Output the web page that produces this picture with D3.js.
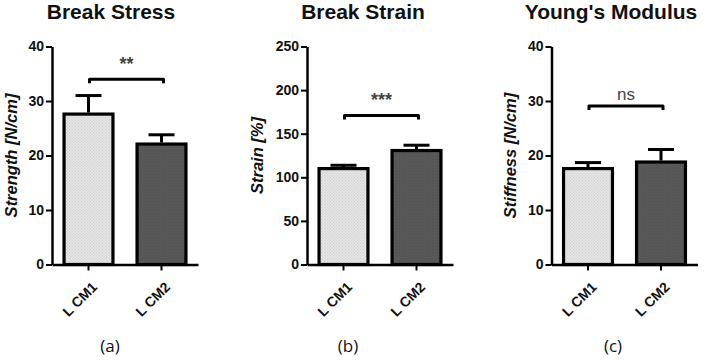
<!DOCTYPE html>
<html lang="en">
<head>
<meta charset="UTF-8">
<title>Break Stress / Break Strain / Young's Modulus</title>
<style>
  body { margin: 0; padding: 0; background: #fff; }
  svg { display: block; font-family: 'Liberation Sans', Arial, sans-serif; }
  .tick text { font-size: 14px; font-weight: bold; fill: #111; }
</style>
</head>
<body>
<svg width="708" height="360"></svg>
<script src="https://d3js.org/d3.v7.min.js"></script>
<script>
// groups on the x axis
const groups = ["L CM1", "L CM2"];

// panel titles / axis labels / sub-captions
const titles = ["Break Stress", "Break Strain", "Young's Modulus"];
const yLabels = ["Strength [N/cm]", "Strain [%]", "Stiffness [N/cm]"];
const captions = ["(a)", "(b)", "(c)"];

// means and error (SD)
const stressMean = [27.6, 22.1];
const stressErr = [3.4, 1.7];
const strainMean = [110, 130.7];
const strainErr = [3.8, 6.1];
const modulusMean = [17.6, 18.8];
const modulusErr = [1.1, 2.3];

// y axis ranges and ticks
const yMax = [40, 250, 40];
const yTicks = [[0, 10, 20, 30, 40], [0, 50, 100, 150, 200, 250], [0, 10, 20, 30, 40]];

// significance brackets
const bracketAt = [34, 171, 29.1];
const sigLabels = ["**", "***", "ns"];

const panels = [
  { mean: stressMean, err: stressErr },
  { mean: strainMean, err: strainErr },
  { mean: modulusMean, err: modulusErr }
];

const svg = d3.select("svg");

// pattern fills for the two bars
const defs = svg.append("defs");
function dotPattern(id, base, dot) {
  const p = defs.append("pattern").attr("id", id)
    .attr("width", 3).attr("height", 3).attr("patternUnits", "userSpaceOnUse");
  p.append("rect").attr("width", 3).attr("height", 3).attr("fill", base);
  p.append("rect").attr("width", 1).attr("height", 1).attr("fill", dot);
  p.append("rect").attr("x", 1.5).attr("y", 1.5).attr("width", 1).attr("height", 1).attr("fill", dot);
}
dotPattern("light", "#e4e4e4", "#cfcfcf");
dotPattern("dark", "#5a5a5a", "#4e4e4e");
const fills = ["url(#light)", "url(#dark)"];

const axisX0 = [52, 307, 551.5];
const yLabelOff = [35, 44, 35.5];
const axisW = 146;
const yBottom = 264.5, yTop = 46.5;

panels.forEach((pd, i) => {
  const x0 = axisX0[i];
  const g = svg.append("g");

  const x = d3.scaleBand().domain(groups)
    .range([x0, x0 + axisW]).paddingInner(0.33).paddingOuter(0.165);
  const y = d3.scaleLinear().domain([0, yMax[i]]).range([yBottom, yTop]);

  // bars
  g.selectAll("rect.bar").data(groups).enter().append("rect")
    .attr("class", "bar")
    .attr("x", d => x(d))
    .attr("width", x.bandwidth())
    .attr("y", (d, j) => y(pd.mean[j]))
    .attr("height", (d, j) => yBottom - y(pd.mean[j]))
    .attr("fill", (d, j) => fills[j])
    .attr("stroke", "#000")
    .attr("stroke-width", 3.2);

  // error bars (upper only)
  const cap = 13;
  groups.forEach((d, j) => {
    const cx = x(d) + x.bandwidth() / 2;
    g.append("line")
      .attr("x1", cx).attr("x2", cx)
      .attr("y1", y(pd.mean[j]) - 1.5).attr("y2", y(pd.mean[j] + pd.err[j]))
      .attr("stroke", "#000").attr("stroke-width", 3);
    g.append("line")
      .attr("x1", cx - cap).attr("x2", cx + cap)
      .attr("y1", y(pd.mean[j] + pd.err[j])).attr("y2", y(pd.mean[j] + pd.err[j]))
      .attr("stroke", "#000").attr("stroke-width", 3);
  });

  // y axis
  const ya = g.append("g")
    .attr("transform", `translate(${x0},0)`)
    .call(d3.axisLeft(y).tickValues(yTicks[i]).tickSize(6).tickSizeOuter(0).tickPadding(2));
  ya.select(".domain").attr("stroke-width", 2.5);
  ya.selectAll(".tick line").attr("stroke-width", 2);

  // x axis
  const xa = g.append("g")
    .attr("transform", `translate(0,${yBottom})`)
    .call(d3.axisBottom(x).tickSize(6).tickSizeOuter(0));
  xa.select(".domain").attr("stroke-width", 2.5);
  xa.selectAll(".tick line").attr("stroke-width", 2);
  xa.selectAll(".tick text")
    .attr("x", 0).attr("y", 0)
    .attr("text-anchor", "end")
    .attr("font-size", "16.5px")
    .attr("transform", "translate(6,20) rotate(-45)")
    .attr("dy", "0.35em");

  // significance bracket
  const bx1 = x(groups[0]) + x.bandwidth() / 2 + 1;
  const bx2 = x(groups[1]) + x.bandwidth() / 2 + 2;
  const by = y(bracketAt[i]);
  g.append("path")
    .attr("d", `M${bx1},${by + 4}V${by}H${bx2}V${by + 4}`)
    .attr("fill", "none").attr("stroke", "#000").attr("stroke-width", 3)
    .attr("stroke-linejoin", "round");
  const ns = sigLabels[i] === "ns";
  g.append("text")
    .attr("x", (bx1 + bx2) / 2)
    .attr("y", ns ? by - 6 : by - 9)
    .attr("text-anchor", "middle")
    .attr("font-size", ns ? "17px" : "18px")
    .attr("font-weight", ns ? "normal" : "bold")
    .attr("fill", "#444")
    .text(sigLabels[i]);

  // title
  g.append("text")
    .attr("x", [111, 363, 611][i])
    .attr("y", 19)
    .attr("text-anchor", "middle")
    .attr("font-size", "21px")
    .attr("font-weight", "bold")
    .attr("fill", "#111")
    .text(titles[i]);

  // y label
  g.append("text")
    .attr("transform", `translate(${x0 - yLabelOff[i]},${(yBottom + yTop) / 2}) rotate(-90)`)
    .attr("text-anchor", "middle")
    .attr("font-size", "16.5px")
    .attr("font-weight", "bold")
    .attr("font-style", "italic")
    .attr("fill", "#111")
    .text(yLabels[i]);

  // caption
  g.append("text")
    .attr("x", [110, 348, 613][i])
    .attr("y", 352)
    .attr("text-anchor", "middle")
    .attr("font-size", "17px")
    .attr("font-family", "'Open Sans', sans-serif")
    .attr("fill", "#111")
    .text(captions[i]);
});
</script>
</body>
</html>
